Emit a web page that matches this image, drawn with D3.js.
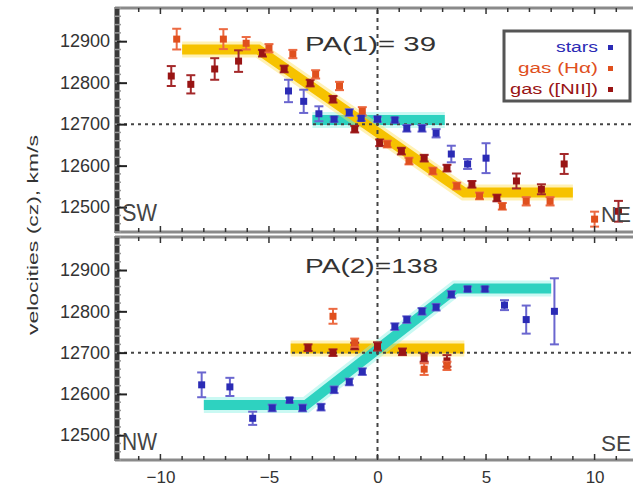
<!DOCTYPE html>
<html>
<head>
<meta charset="utf-8">
<script src="https://cdn.jsdelivr.net/npm/d3@7"></script>
<style>
  body { margin: 0; background: #fff; }
  svg { display: block; font-family: "Liberation Sans", Arial, sans-serif; }
</style>
</head>
<body>
<svg id="chart" width="633" height="487"></svg>
<script>
// ---- axis ticks ----
const xTicks = [-10, -5, 0, 5, 10];
const xTickLabels = ["\u221210", "\u22125", "0", "5", "10"];
const yTicks = [12500, 12600, 12700, 12800, 12900];
const systemic = 12700;

// ---- PA(1) = 39 : [offset, velocity, error] ----
const pa1Stars = [
  [-4.1, 12780, 27], [-3.4, 12755, 28], [-2.7, 12725, 18], [-2.0, 12712, 6],
  [-1.3, 12728, 8], [-0.75, 12714, 6], [0.0, 12712, 6], [0.8, 12710, 6],
  [1.35, 12690, 8], [2.05, 12690, 8], [2.7, 12678, 10], [3.4, 12628, 20],
  [4.15, 12604, 12], [5.0, 12618, 36]
];
const pa1Ha = [
  [-9.25, 12905, 25], [-7.1, 12905, 24], [-6.05, 12895, 15], [-5.0, 12883, 10],
  [-3.9, 12869, 10], [-2.85, 12820, 10], [-1.75, 12792, 10], [-0.7, 12731, 10],
  [0.45, 12652, 8], [1.45, 12611, 8], [2.55, 12587, 8], [3.65, 12551, 8],
  [4.7, 12527, 8], [5.75, 12502, 8], [6.85, 12514, 10], [7.95, 12514, 10],
  [10.0, 12471, 18]
];
const pa1NII = [
  [-9.5, 12816, 24], [-8.6, 12796, 22], [-7.5, 12833, 26], [-6.4, 12852, 26],
  [-5.3, 12871, 8], [-4.3, 12833, 8], [-3.1, 12799, 8], [-2.05, 12760, 8],
  [-1.05, 12688, 8], [0.1, 12655, 8], [1.1, 12635, 8], [2.15, 12618, 8],
  [3.2, 12594, 8], [4.35, 12555, 8], [5.5, 12522, 8], [6.4, 12563, 18],
  [7.55, 12543, 12], [8.6, 12604, 24], [11.1, 12490, 25]
];
const pa1StarModel = [[-3.0, 12710], [3.1, 12710]];
const pa1GasModel = [[-9.0, 12880], [-5.5, 12880], [4.0, 12535], [9.0, 12535]];

// ---- PA(2) = 138 ----
const pa2Stars = [
  [-8.1, 12622, 30], [-6.8, 12617, 22], [-5.75, 12541, 16], [-4.85, 12566, 8],
  [-4.05, 12585, 6], [-3.45, 12566, 8], [-2.6, 12568, 8], [-2.0, 12610, 8],
  [-1.3, 12629, 8], [-0.7, 12654, 8], [0.8, 12763, 8], [1.35, 12780, 8],
  [2.05, 12800, 8], [2.7, 12810, 8], [3.4, 12841, 8], [4.15, 12854, 6],
  [4.95, 12854, 6], [5.85, 12815, 12], [6.85, 12780, 34], [8.15, 12800, 80]
];
const pa2Ha = [
  [-2.05, 12788, 18], [-1.05, 12724, 10], [2.15, 12660, 14], [3.2, 12668, 10]
];
const pa2NII = [
  [-3.2, 12712, 8], [-2.05, 12700, 8], [-1.05, 12716, 8], [0.0, 12715, 10],
  [1.15, 12702, 8], [2.15, 12688, 10], [3.2, 12680, 14]
];
const pa2StarModel = [[-8.0, 12573], [-3.3, 12573], [3.6, 12855], [8.0, 12855]];
const pa2GasModel = [[-4.0, 12710], [4.0, 12710]];

// ---- legend ----
const legendLabels = ["stars", "gas (H\u03b1)", "gas ([NII])"];

const colors = {
  stars: "#2b2bb5", starsErr: "#6a66cf",
  ha: "#e0501e", haErr: "#ec6a42",
  nii: "#991414", niiErr: "#a4282a",
  gasBand: "#f6c200", gasGlow: "#ffe15a",
  starBand: "#2ed2c0", starGlow: "#8af2e4",
  axis: "#8a8a8a", ink: "#333"
};

const svg = d3.select("#chart");
const x = d3.scaleLinear().domain([-12, 12]).range([117, 638]);
const vDomain = [12440, 12980];

const panels = [
  { top: 8, bottom: 232, title: "PA(1)= 39", tLen: 131, tY: 51,
    left: "SW", right: "NE", cornerY: 221,
    stars: pa1Stars, ha: pa1Ha, nii: pa1NII,
    bands: [["star", pa1StarModel], ["gas", pa1GasModel]] },
  { top: 237, bottom: 460, title: "PA(2)=138", tLen: 133, tY: 273,
    left: "NW", right: "SE", cornerY: 450,
    stars: pa2Stars, ha: pa2Ha, nii: pa2NII,
    bands: [["gas", pa2GasModel], ["star", pa2StarModel]] }
];

const minorX = d3.range(-12, 13, 1);
const minorV = d3.range(12440, 12981, 20);

panels.forEach((p, i) => {
  const y = d3.scaleLinear().domain(vDomain).range([p.bottom, p.top]);
  const g = svg.append("g");

  // model bands
  const line = d3.line().x(d => x(d[0])).y(d => y(d[1]));
  p.bands.forEach(([kind, pts]) => {
    g.append("path").datum(pts).attr("d", line).attr("fill", "none")
      .attr("stroke", kind === "gas" ? colors.gasGlow : colors.starGlow)
      .attr("stroke-width", 16).attr("stroke-opacity", 0.45);
    g.append("path").datum(pts).attr("d", line).attr("fill", "none")
      .attr("stroke", kind === "gas" ? colors.gasBand : colors.starBand)
      .attr("stroke-width", 10);
  });

  // reference lines: systemic velocity and centre
  g.append("line")
    .attr("x1", x(-12)).attr("x2", x(12))
    .attr("y1", y(systemic)).attr("y2", y(systemic))
    .attr("stroke", "#444").attr("stroke-width", 2).attr("stroke-dasharray", "3,4");
  g.append("line")
    .attr("x1", x(0)).attr("x2", x(0))
    .attr("y1", p.top + 2).attr("y2", p.bottom)
    .attr("stroke", "#444").attr("stroke-width", 2).attr("stroke-dasharray", "4,4");

  // data points with error bars
  const drawSeries = (data, mColor, eColor) => {
    const s = g.append("g").selectAll("g").data(data).join("g");
    s.append("line")
      .attr("x1", d => x(d[0])).attr("x2", d => x(d[0]))
      .attr("y1", d => y(d[1] - d[2])).attr("y2", d => y(d[1] + d[2]))
      .attr("stroke", eColor).attr("stroke-width", 2);
    [-1, 1].forEach(sg => {
      s.append("line")
        .attr("x1", d => x(d[0]) - 4.5).attr("x2", d => x(d[0]) + 4.5)
        .attr("y1", d => y(d[1] + sg * d[2])).attr("y2", d => y(d[1] + sg * d[2]))
        .attr("stroke", eColor).attr("stroke-width", 2);
    });
    s.append("rect")
      .attr("x", d => x(d[0]) - 3.5).attr("y", d => y(d[1]) - 3.5)
      .attr("width", 7).attr("height", 7).attr("fill", mColor);
  };
  drawSeries(p.nii, colors.nii, colors.niiErr);
  drawSeries(p.ha, colors.ha, colors.haErr);
  drawSeries(p.stars, colors.stars, colors.starsErr);

  // frame: top and bottom axes
  [[p.top, 1], [p.bottom, -1]].forEach(([yy, dir]) => {
    g.append("line").attr("x1", 115).attr("x2", 640)
      .attr("y1", yy).attr("y2", yy)
      .attr("stroke", colors.axis).attr("stroke-width", 3);
    g.selectAll(null).data(minorX).join("line")
      .attr("x1", d => x(d)).attr("x2", d => x(d))
      .attr("y1", yy).attr("y2", d => yy + dir * (d % 5 === 0 ? 6 : 4))
      .attr("stroke", "#333").attr("stroke-width", 1.5);
  });

  // left axis: thick bar with minor and major ticks
  g.append("line").attr("x1", 117).attr("x2", 117)
    .attr("y1", p.top - 1).attr("y2", p.bottom + 1)
    .attr("stroke", "#3a3a3a").attr("stroke-width", 5);
  g.selectAll(null).data(minorV).join("line")
    .attr("x1", 114).attr("x2", 121)
    .attr("y1", d => y(d)).attr("y2", d => y(d))
    .attr("stroke", "#9a9a9a").attr("stroke-width", 1.5);
  const yAxis = d3.axisLeft(y).tickValues(yTicks).tickSize(-10).tickPadding(7)
    .tickFormat(d3.format("d"));
  const ya = g.append("g").attr("transform", "translate(117,0)").call(yAxis);
  ya.select(".domain").remove();
  ya.selectAll(".tick line").attr("stroke", "#222").attr("stroke-width", 2);
  ya.selectAll(".tick text").attr("font-size", 18).attr("fill", colors.ink);

  // titles and orientation labels
  g.append("text").attr("x", 305).attr("y", p.tY)
    .attr("textLength", p.tLen).attr("lengthAdjust", "spacingAndGlyphs")
    .attr("font-size", 21).attr("fill", "#333").text(p.title);
  g.append("text").attr("x", 122).attr("y", p.cornerY)
    .attr("textLength", 35).attr("lengthAdjust", "spacingAndGlyphs")
    .attr("font-size", 23).attr("fill", "#444").text(p.left);
  g.append("text").attr("x", 601).attr("y", p.cornerY + 1)
    .attr("textLength", 30).attr("lengthAdjust", "spacingAndGlyphs")
    .attr("font-size", 22).attr("fill", "#444").text(p.right);

  // bottom tick labels on the lower panel
  if (i === 1) {
    const xAxis = d3.axisBottom(x).tickValues(xTicks).tickSize(0).tickPadding(11)
      .tickFormat((d, k) => xTickLabels[k]);
    const xa = g.append("g").attr("transform", `translate(0,${p.bottom})`).call(xAxis);
    xa.select(".domain").remove();
    xa.selectAll(".tick text").attr("font-size", 17).attr("fill", colors.ink);
  }
});

// y-axis title
svg.append("text")
  .attr("transform", "translate(38,235) rotate(-90)")
  .attr("text-anchor", "middle")
  .attr("textLength", 200).attr("lengthAdjust", "spacingAndGlyphs")
  .attr("font-size", 15).attr("fill", "#333")
  .text("velocities (cz), km/s");

// legend
const lg = svg.append("g");
lg.append("rect").attr("x", 504).attr("y", 31).attr("width", 126).attr("height", 70)
  .attr("fill", "#fff").attr("stroke", "#555").attr("stroke-width", 3);
const legendColors = [colors.stars, colors.ha, colors.nii];
const legendLens = [42, 80, 88];
legendLabels.forEach((t, k) => {
  const yy = 52 + k * 21;
  lg.append("text").attr("x", 598).attr("y", yy).attr("text-anchor", "end")
    .attr("textLength", legendLens[k]).attr("lengthAdjust", "spacingAndGlyphs")
    .attr("font-size", 14).attr("fill", legendColors[k]).text(t);
  lg.append("rect").attr("x", 608).attr("y", yy - 7).attr("width", 5).attr("height", 5)
    .attr("fill", legendColors[k]);
});
</script>
</body>
</html>
